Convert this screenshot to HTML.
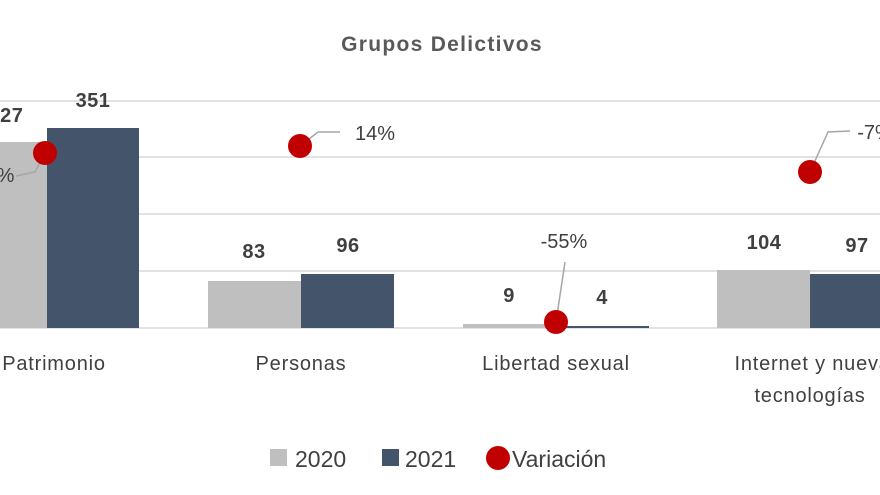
<!DOCTYPE html>
<html><head><style>body{margin:0;background:#fff}svg{display:block}</style></head><body>
<svg width="880" height="495" xmlns="http://www.w3.org/2000/svg" font-family="Liberation Sans, sans-serif">
<rect width="880" height="495" fill="#fff"/>
<text x="442" y="51" text-anchor="middle" font-size="21" font-weight="bold" fill="#595959" letter-spacing="1.3">Grupos Delictivos</text>
<g stroke="#d9d9d9" stroke-width="1.5">
<line x1="0" y1="101" x2="880" y2="101"/><line x1="0" y1="157" x2="880" y2="157"/>
<line x1="0" y1="214" x2="880" y2="214"/><line x1="0" y1="271" x2="880" y2="271"/>
<line x1="0" y1="328" x2="880" y2="328"/></g>
<g fill="#bfbfbf"><rect x="0" y="142" width="47" height="186"/><rect x="208" y="281" width="93" height="47"/><rect x="463" y="324" width="93" height="4"/><rect x="717" y="270" width="93" height="58"/></g>
<g fill="#44546a"><rect x="47" y="128" width="92" height="200"/><rect x="301" y="274" width="93" height="54"/><rect x="556" y="326" width="93" height="2"/><rect x="810" y="274" width="70" height="54"/></g>
<g font-size="20" font-weight="bold" fill="#404040" text-anchor="middle" letter-spacing="0.5">
<text x="6" y="122">327</text><text x="93" y="107">351</text>
<text x="254" y="258">83</text><text x="348" y="252">96</text>
<text x="509" y="302">9</text><text x="602" y="304">4</text>
<text x="764" y="249">104</text><text x="857" y="252">97</text></g>
<g stroke="#a6a6a6" stroke-width="1.5" fill="none">
<path d="M45,153 L35,172 L16,176"/><path d="M300,146 L318,132 L340,132"/>
<path d="M556,322 L565,262"/><path d="M810,172 L828,132 L850,131"/></g>
<g fill="#c00000"><circle cx="45" cy="153" r="12"/><circle cx="300" cy="146" r="12"/><circle cx="556" cy="322" r="12"/><circle cx="810" cy="172" r="12"/></g>
<g font-size="20" fill="#404040" text-anchor="middle">
<text x="0" y="182">7%</text><text x="375" y="140">14%</text>
<text x="564" y="248">-55%</text><text x="875" y="139">-7%</text></g>
<g font-size="20" fill="#404040" text-anchor="middle" letter-spacing="0.8">
<text x="54" y="370">Patrimonio</text><text x="301" y="370">Personas</text>
<text x="556" y="370">Libertad sexual</text><text x="818" y="370">Internet y nuevas</text><text x="810" y="402">tecnologías</text></g>
<rect x="270" y="449" width="17" height="17" fill="#bfbfbf"/><text x="295" y="467" font-size="23" fill="#404040">2020</text>
<rect x="382" y="449" width="17" height="17" fill="#44546a"/><text x="405" y="467" font-size="23" fill="#404040">2021</text>
<circle cx="498" cy="458" r="12" fill="#c00000"/><text x="512" y="467" font-size="23" fill="#404040">Variación</text>
</svg></body></html>
